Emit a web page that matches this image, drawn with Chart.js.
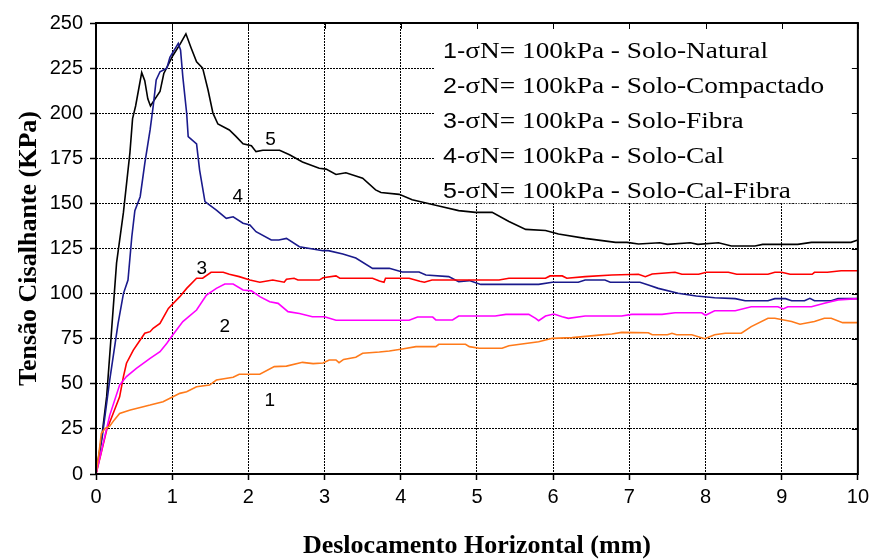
<!DOCTYPE html>
<html>
<head>
<meta charset="utf-8">
<script src="https://cdn.jsdelivr.net/npm/chart.js@4/dist/chart.umd.min.js"></script>
<style>
  html, body { margin: 0; padding: 0; background: #fff; }
  #wrap { width: 874px; height: 559px; position: relative; }
</style>
</head>
<body>
<div id="wrap"><canvas id="c" width="874" height="559"></canvas></div>
<script>
// ---------------- DATA ----------------
const xTicks = [0,1,2,3,4,5,6,7,8,9,10];
const yTicks = [0,25,50,75,100,125,150,175,200,225,250];

const seriesNames = [
  "1-σN= 100kPa - Solo-Natural",
  "2-σN= 100kPa - Solo-Compactado",
  "3-σN= 100kPa - Solo-Fibra",
  "4-σN= 100kPa - Solo-Cal",
  "5-σN= 100kPa - Solo-Cal-Fibra"
];
const curveLabels = ["1","2","3","4","5"];
// label anchor positions in data units (x mm, y kPa)
const curveLabelX = [2.28, 1.69, 1.39, 1.86, 2.29];
const curveLabelY = [40.4, 81.5, 114, 153.5, 185];

// 1 - Solo-Natural
const s1x = [0, 0.04, 0.07, 0.12, 0.18, 0.24, 0.31, 0.45, 0.62, 0.71,
  0.88, 1.01, 1.10, 1.19, 1.32, 1.49, 1.58, 1.80, 1.88, 2.15,
  2.34, 2.50, 2.71, 2.85, 2.98, 3.06, 3.15, 3.19, 3.25, 3.41,
  3.50, 3.72, 3.85, 4.02, 4.20, 4.46, 4.50, 4.85, 4.90, 5.03,
  5.33, 5.42, 5.81, 5.99, 6.25, 6.60, 6.77, 6.90, 7.25, 7.30,
  7.50, 7.56, 7.62, 7.82, 7.99, 8.12, 8.26, 8.47, 8.60, 8.82,
  8.91, 9.13, 9.24, 9.43, 9.56, 9.65, 9.80, 10];
const s1y = [0, 12, 22.5, 25.3, 26.5, 30, 33.6, 35.5, 37.3, 38.2,
  40.1, 42.8, 44.7, 45.6, 48.4, 49.3, 52.1, 53.6, 55.3, 55.3,
  59.5, 59.8, 61.9, 61.2, 61.5, 63.2, 63.2, 61.7, 63.5, 64.7,
  66.9, 67.6, 68.2, 69.3, 70.6, 70.6, 71.9, 71.9, 70.6, 69.7,
  69.7, 71.1, 73.3, 75.2, 75.6, 77.0, 77.6, 78.5, 78.3, 77.2,
  77.2, 78.0, 77.2, 77.2, 75.0, 77.2, 78.0, 78.0, 81.7, 86.3,
  86.3, 84.5, 83.0, 84.5, 86.3, 86.3, 83.9, 83.9];

// 2 - Solo-Compactado
const s2x = [0, 0.05, 0.10, 0.18, 0.31, 0.40, 0.53, 0.71, 0.84, 0.93,
  0.99, 1.14, 1.32, 1.45, 1.58, 1.69, 1.80, 1.93, 2.04, 2.15,
  2.28, 2.39, 2.52, 2.67, 2.84, 3.00, 3.15, 4.11, 4.22, 4.42,
  4.46, 4.68, 4.76, 5.24, 5.38, 5.68, 5.77, 5.81, 5.90, 6.01,
  6.12, 6.20, 6.42, 6.90, 7.03, 7.43, 7.60, 7.95, 8.00, 8.12,
  8.39, 8.60, 8.95, 9.02, 9.08, 9.39, 9.56, 9.74, 10];
const s2y = [0, 9, 18, 32.5, 49.3, 54, 58.6, 64.1, 67.8, 72.5,
  76.1, 84.5, 90.9, 99.2, 102.9, 105.3, 105.3, 102, 101.5, 98.3,
  95.5, 94.6, 90, 89, 87.2, 87.2, 85.2, 85.2, 87, 87,
  85.4, 85.4, 87.6, 87.6, 88.5, 88.5, 86.3, 85.0, 87.6, 88.7,
  87.2, 86.3, 87.6, 87.6, 88.5, 88.5, 89.4, 89.4, 88.0, 90.5,
  90.5, 92.7, 92.7, 91.5, 92.7, 92.7, 94.6, 96.5, 97.2];

// 3 - Solo-Fibra
const s3x = [0, 0.07, 0.14, 0.22, 0.31, 0.36, 0.40, 0.49, 0.58, 0.64,
  0.71, 0.75, 0.84, 0.95, 1.10, 1.19, 1.32, 1.40, 1.51, 1.67,
  1.75, 1.88, 2.02, 2.15, 2.32, 2.47, 2.50, 2.60, 2.65, 2.93,
  2.98, 3.15, 3.20, 3.63, 3.72, 3.78, 3.80, 4.11, 4.25, 4.31,
  4.41, 5.29, 5.42, 5.90, 5.96, 6.12, 6.18, 6.42, 6.77, 7.12,
  7.21, 7.30, 7.60, 7.69, 7.91, 8.01, 8.30, 8.41, 8.82, 8.91,
  9.00, 9.11, 9.40, 9.43, 9.60, 9.78, 10];
const s3y = [0, 12, 24.4, 33, 42.8, 54, 61.4, 68.7, 74.3, 78,
  78.9, 80.8, 83.5, 91.8, 98.3, 102.9, 108.5, 108.5, 111.8, 111.8,
  110.7, 109.4, 107.5, 106.3, 107.5, 106.3, 108, 108.5, 107.5, 107.5,
  108.8, 109.8, 108.5, 108.5, 107, 106.3, 108.5, 108.5, 106.8, 106.3,
  107.5, 107.5, 108.5, 108.5, 109.8, 109.8, 108.5, 109.4, 110.3, 110.7,
  109.4, 110.9, 111.8, 110.7, 110.7, 111.8, 111.8, 110.7, 110.7, 111.8,
  111.8, 110.7, 110.7, 111.8, 111.8, 112.7, 112.7];

// 4 - Solo-Cal
const s4x = [0, 0.08, 0.18, 0.29, 0.36, 0.42, 0.47, 0.51, 0.58, 0.64,
  0.71, 0.75, 0.79, 0.84, 0.93, 0.97, 1.08, 1.11, 1.14, 1.19,
  1.21, 1.32, 1.36, 1.43, 1.58, 1.71, 1.80, 1.93, 2.02, 2.10,
  2.30, 2.40, 2.50, 2.67, 2.98, 3.05, 3.24, 3.41, 3.63, 3.85,
  4.02, 4.24, 4.33, 4.63, 4.76, 4.90, 5.05, 5.81, 5.99, 6.33,
  6.42, 6.68, 6.75, 7.14, 7.25, 7.38, 7.64, 7.88, 8.12, 8.39,
  8.52, 8.82, 8.91, 9.05, 9.13, 9.30, 9.37, 9.43, 9.65, 9.74,
  10];
const s4y = [0, 20, 52, 83.5, 100, 107.5, 131.5, 146, 153.7, 172,
  190.7, 203.6, 218.4, 223, 225, 231, 238.7, 235, 220, 200,
  187, 183, 168.5, 151, 146.3, 141.7, 142.6, 139, 138, 134.3,
  129.7, 129.7, 130.6, 126, 123.8, 123.8, 122, 119.7, 114, 114,
  112, 112, 110.3, 109.4, 106.6, 107.2, 105.1, 105.1, 106.3, 106.3,
  107.5, 107.5, 106.3, 106.3, 104.8, 102.9, 100.2, 98.7, 97.7, 97.2,
  96, 96, 97.2, 97.2, 96, 96, 97.4, 96, 96, 97.2,
  97.2];

// 5 - Solo-Cal-Fibra
const s5x = [0, 0.08, 0.14, 0.205, 0.27, 0.36, 0.445, 0.48, 0.52, 0.60,
  0.64, 0.68, 0.715, 0.76, 0.84, 0.89, 1.01, 1.10, 1.18, 1.25,
  1.32, 1.40, 1.47, 1.535, 1.60, 1.75, 1.84, 1.93, 2.04, 2.10,
  2.19, 2.41, 2.54, 2.71, 2.93, 3.02, 3.15, 3.28, 3.50, 3.67,
  3.74, 3.98, 4.15, 4.50, 4.76, 4.98, 5.20, 5.42, 5.64, 5.90,
  6.07, 6.42, 6.82, 6.97, 7.12, 7.40, 7.50, 7.80, 7.90, 8.17,
  8.34, 8.65, 8.75, 9.21, 9.39, 9.91, 10];
const s5y = [0, 22, 43, 80, 117, 145, 178, 197, 204, 222.5,
  218, 208, 204, 207, 212, 222, 232, 238, 244, 236,
  228.5, 225, 213, 200, 194, 190.7, 187, 183, 182, 178.7,
  179.5, 179.5, 177, 173, 169.5, 169, 166, 167, 164, 157.5,
  156, 155, 152, 148.6, 146, 145, 145, 140, 135.6, 135,
  133, 130.6, 128.4, 128.4, 127.5, 128.2, 127.3, 128.2, 127.3, 128.2,
  126.4, 126.4, 127.3, 127.3, 128.4, 128.4, 129.7];

const seriesX = [s1x, s2x, s3x, s4x, s5x];
const seriesY = [s1y, s2y, s3y, s4y, s5y];
const seriesColors = ["#FF7A1A", "#FF00FF", "#FF0000", "#1A1A8C", "#000000"];

// ---------------- CHART ----------------
const SANS = "'Liberation Sans', Arial, sans-serif";
const SERIF = "'Liberation Serif', 'Times New Roman', serif";

const datasets = seriesX.map((xs, i) => ({
  label: seriesNames[i],
  data: xs.map((xv, j) => ({ x: xv, y: seriesY[i][j] })),
  borderColor: seriesColors[i],
  backgroundColor: seriesColors[i],
  borderWidth: 1.6,
  pointRadius: 0,
  showLine: true,
  tension: 0,
  fill: false
}));

const decor = {
  id: 'decor',
  beforeDatasetsDraw(chart) {
    const { ctx, scales: { x, y } } = chart;
    // legend text box (white, covering grid)
    const bx0 = x.getPixelForValue(4.44), by1 = y.getPixelForValue(150.2);
    const bx1 = x.getPixelForValue(10), by0 = y.getPixelForValue(250);
    ctx.save();
    ctx.fillStyle = '#fff';
    ctx.fillRect(bx0, by0, bx1 - bx0, by1 - by0);
    ctx.strokeStyle = '#999';
    ctx.lineWidth = 1;
    ctx.setLineDash([2, 2]);
    ctx.beginPath();
    ctx.moveTo(bx0, by1 + 0.5); ctx.lineTo(bx1, by1 + 0.5);
    ctx.stroke();
    ctx.setLineDash([]);
    // legend lines (text stretched horizontally to the original's width)
    ctx.fillStyle = '#000';
    ctx.textBaseline = 'alphabetic';
    const lx = 443;
    const headFont = '22px ' + SANS, restFont = '24px ' + SERIF;
    const parts = seriesNames.map(name => {
      const d = name.indexOf('-');
      return [name.slice(0, d + 1), name.slice(d + 1)];
    });
    ctx.font = headFont; const hw0 = ctx.measureText(parts[0][0]).width;
    ctx.font = restFont; const rw0 = ctx.measureText(parts[0][1]).width;
    const sx = 325 / (hw0 + rw0);
    parts.forEach(([head, rest], i) => {
      const base = by0 + 35 + i * 35;
      ctx.save();
      ctx.translate(lx, base);
      ctx.scale(sx, 1);
      ctx.font = headFont;
      ctx.fillText(head, 0, 0);
      const w = ctx.measureText(head).width;
      ctx.font = restFont;
      ctx.fillText(rest, w, 0);
      ctx.restore();
    });
    ctx.restore();
  },
  afterDatasetsDraw(chart) {
    const { ctx, chartArea: a, scales: { x, y } } = chart;
    ctx.save();
    // curve number labels
    ctx.fillStyle = '#000';
    ctx.font = '19px ' + SANS;
    ctx.textAlign = 'center';
    ctx.textBaseline = 'middle';
    curveLabels.forEach((t, i) => {
      ctx.fillText(t, x.getPixelForValue(curveLabelX[i]), y.getPixelForValue(curveLabelY[i]));
    });
    // frame
    ctx.strokeStyle = '#000';
    ctx.lineWidth = 2;
    ctx.strokeRect(a.left, a.top, a.right - a.left, a.bottom - a.top);
    // inner ticks on top and right borders
    ctx.lineWidth = 1;
    ctx.beginPath();
    xTicks.forEach(v => {
      const px = Math.round(x.getPixelForValue(v)) + 0.5;
      ctx.moveTo(px, a.top); ctx.lineTo(px, a.top + 6);
    });
    yTicks.forEach(v => {
      const py = Math.round(y.getPixelForValue(v)) + 0.5;
      ctx.moveTo(a.right, py); ctx.lineTo(a.right - 6, py);
    });
    ctx.stroke();
    ctx.restore();
  }
};

new Chart(document.getElementById('c'), {
  type: 'scatter',
  data: { datasets },
  options: {
    responsive: false,
    animation: false,
    events: [],
    layout: { padding: { top: 23, right: 14, bottom: 0, left: 0 } },
    plugins: { legend: { display: false }, tooltip: { enabled: false }, title: { display: false } },
    scales: {
      x: {
        type: 'linear', min: 0, max: 10,
        afterBuildTicks: (s) => { s.ticks = xTicks.map(v => ({ value: v })); },
        afterFit: (s) => { s.height = 85; },
        ticks: { color: '#000', font: { family: SANS, size: 20 }, padding: 5, maxRotation: 0 },
        grid: { color: '#000', lineWidth: 1, drawTicks: true, tickLength: 6, tickColor: '#000', tickWidth: 1.5 },
        border: { display: false, dash: [2, 1] },
        title: { display: true, text: 'Deslocamento Horizontal (mm)', color: '#000',
                 font: { family: SERIF, size: 26, weight: 'bold', lineHeight: 1 }, padding: { top: 0, bottom: 0 } }
      },
      y: {
        type: 'linear', min: 0, max: 250,
        afterBuildTicks: (s) => { s.ticks = yTicks.map(v => ({ value: v })); },
        afterFit: (s) => { s.width = 96; },
        ticks: { color: '#000', font: { family: SANS, size: 20 }, padding: 7 },
        grid: { color: '#000', lineWidth: 1, drawTicks: true, tickLength: 6, tickColor: '#000', tickWidth: 1.5 },
        border: { display: false, dash: [2, 1] },
        title: { display: true, text: 'Tensão Cisalhante (KPa)', color: '#000',
                 font: { family: SERIF, size: 26, weight: 'bold', lineHeight: 1 }, padding: { top: 16, bottom: 0 } }
      }
    }
  },
  plugins: [decor]
});
</script>
</body>
</html>
